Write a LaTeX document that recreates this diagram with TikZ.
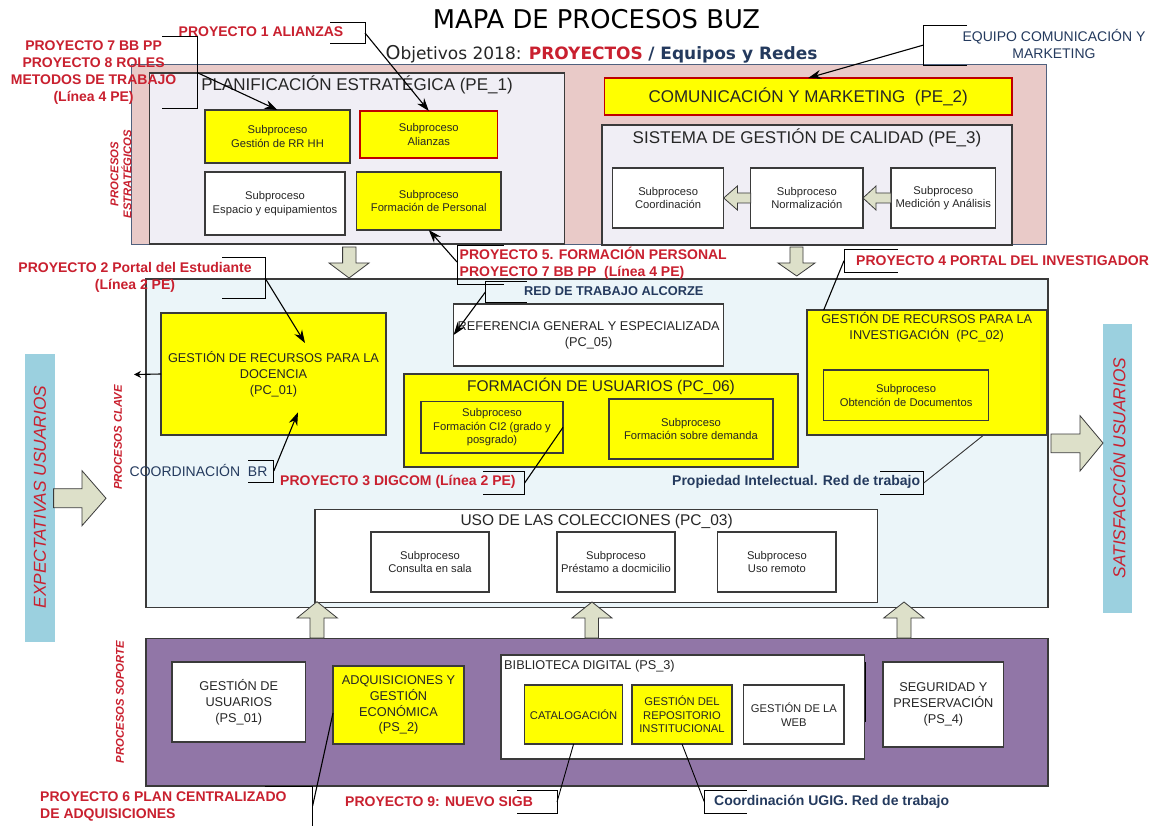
\documentclass[tikz,border=0pt]{standalone}
\usepackage{fontspec}
\setmainfont{Liberation Sans}
\newfontfamily\dejavu{DejaVu Sans}
\usetikzlibrary{arrows.meta}
\definecolor{rojo}{HTML}{C9202F}
\definecolor{navy}{HTML}{243A5E}
\definecolor{tinta}{HTML}{262626}
\definecolor{amarillo}{HTML}{FFFF00}
\definecolor{rosa}{HTML}{E9CAC8}
\definecolor{lila}{HTML}{F0EEF5}
\definecolor{celeste}{HTML}{EBF5F9}
\definecolor{barra}{HTML}{9BD0DF}
\definecolor{purpura}{HTML}{9176A7}
\definecolor{flecha}{HTML}{DDE0C9}
\definecolor{borde}{HTML}{3A3A3A}
\newcommand\fsz[2]{\fontsize{#1}{#2}\selectfont}
\newcommand\bx[7]{%
  \pgfmathsetmacro\cxx{(#3+#5)/2}\pgfmathsetmacro\cyy{(#4+#6)/2}%
  \pgfmathsetmacro\wdd{#5-#3}\pgfmathsetmacro\htt{#6-#4}%
  \node[#1,minimum width=\wdd pt,minimum height=\htt pt,inner sep=0pt,outer sep=0pt,align=center] (#2) at (\cxx,\cyy) {#7};}
\tikzset{
  x=1pt,y=-1pt,
  caja/.style={draw=borde,line width=1.1pt,text=tinta},
  sub/.style={caja,font=\fsz{11.2}{13.4}},
  big/.style={caja,font=\fsz{12.75}{15.8}},
  amar/.style={fill=amarillo},
  blanco/.style={fill=white},
  bloque/.style={draw=borde,line width=0.8pt,fill=flecha,line join=miter},
  cajatit/.style={text=tinta,font=\fsz{17}{20},inner sep=0pt},
  proy/.style={text=rojo,font=\bfseries\fsz{14}{17},align=center,inner sep=0pt},
  equipo/.style={text=navy,font=\fsz{14}{17},align=center,inner sep=0pt},
  equipob/.style={text=navy,font=\bfseries\fsz{14}{17},align=center,inner sep=0pt},
  vert/.style={text=rojo,font=\bfseries\itshape\fsz{11.3}{13},align=center,inner sep=0pt,rotate=90},
  barrat/.style={text=rojo,font=\itshape\fsz{17.3}{22},inner sep=0pt,rotate=90},
  cor/.style={draw=black,line width=0.9pt},
  conn/.style={draw=black,line width=1.1pt},
  tip/.style={draw=black,line width=1.1pt,-{Stealth[length=13pt,width=9pt]}},
}
\begin{document}
\begin{tikzpicture}
\useasboundingbox (0,0) rectangle (1161,826);
\fill[white] (0,0) rectangle (1161,826);
% ---- zonas
\bx{fill=rosa,draw=navy!80,line width=1pt}{estr}{131}{65}{1046}{245}{}
\bx{fill=celeste,draw=borde,line width=1.3pt}{clave}{146}{279}{1048}{607.5}{}
\bx{fill=purpura,draw=borde,line width=1.2pt}{sop}{146}{638.7}{1048}{786}{}
% ---- barras laterales
\bx{fill=barra}{expb}{25}{353.7}{54.8}{642}{}
\bx{fill=barra}{satb}{1103}{324}{1132}{612.7}{}
% ---- PE
\bx{caja,fill=lila}{pe1}{149.5}{73}{564.5}{244}{}
\bx{sub,amar}{rrhh}{205}{110}{350}{163}{Subproceso\\Gestión de RR HH}
\bx{sub,amar,draw=red!75!black}{ali}{360}{111}{497.6}{158}{Subproceso\\Alianzas}
\bx{sub,blanco}{esp}{205}{172}{345}{235}{Subproceso\\Espacio y equipamientos}
\bx{sub,amar}{fper}{356.6}{172}{501}{230}{Subproceso\\Formación de Personal}
\bx{caja,amar,draw=red!75!black,font=\fsz{17}{20}}{pe2}{604.4}{78}{1012}{115}{COMUNICACIÓN Y MARKETING~~(PE\_2)}
\bx{caja,fill=lila}{pe3}{602}{125}{1012}{245}{}
\bx{sub,blanco}{coo}{612.6}{168}{723.7}{228}{Subproceso\\Coordinación}
\bx{sub,blanco}{nor}{750.7}{168}{863}{228}{Subproceso\\Normalización}
\bx{sub,blanco}{med}{891}{168}{995.5}{228}{Subproceso\\Medición y Análisis}
% ---- PC
\bx{big,amar}{pc1}{161}{313}{386}{435}{GESTIÓN DE RECURSOS PARA LA\\DOCENCIA\\(PC\_01)}
\bx{big,blanco}{pc5}{453.6}{304}{723.7}{366}{REFERENCIA GENERAL Y ESPECIALIZADA\\(PC\_05)}
\bx{caja,amar}{pc6}{404}{374}{798}{467}{}
\bx{sub,amar}{ci2}{421}{401.7}{563}{453}{Subproceso\\Formación CI2 (grado y\\posgrado)}
\bx{sub,amar}{dem}{609}{399}{773}{459}{Subproceso\\Formación sobre demanda}
\bx{caja,amar}{pc2}{807}{310}{1046.7}{435}{}
\bx{sub,amar}{obt}{823.7}{370}{988.5}{420.7}{Subproceso\\Obtención de Documentos}
\bx{caja,blanco}{pc3}{315}{509.7}{877.4}{602.7}{}
\bx{sub,blanco}{con}{371}{532}{489}{592}{Subproceso\\Consulta en sala}
\bx{sub,blanco}{pre}{557}{532}{675}{592}{Subproceso\\Préstamo a docmicilio}
\bx{sub,blanco}{rem}{717.8}{532}{836}{592}{Subproceso\\Uso remoto}
% ---- PS
\bx{big,blanco}{ps1}{172}{662}{305.6}{742}{GESTIÓN DE\\USUARIOS\\(PS\_01)}
\bx{big,amar}{ps2}{333}{666}{464}{744}{ADQUISICIONES Y\\GESTIÓN\\ECONÓMICA\\(PS\_2)}
\draw[black,line width=1.2pt] (865,662) -- (865,722);
\bx{caja,blanco}{ps3}{501}{655}{864.4}{759}{}
\bx{sub,amar}{cat}{524.6}{685}{622.6}{744}{CATALOGACIÓN}
\bx{sub,amar}{repo}{632}{685}{732}{744}{GESTIÓN DEL\\REPOSITORIO\\INSTITUCIONAL}
\bx{sub,blanco}{web}{743.7}{685}{844}{744}{GESTIÓN DE LA\\WEB}
\bx{big,blanco}{ps4}{883}{662}{1003.7}{747}{SEGURIDAD Y\\PRESERVACIÓN\\(PS\_4)}
% ---- flechas de bloque
\draw[bloque] (342.6,247) -- (356,247) -- (356,263) -- (369,263) -- (349,278) -- (329,263) -- (342.6,263) -- cycle;
\draw[bloque] (790,247) -- (803,247) -- (803,263) -- (815,263) -- (796.7,276) -- (778,263) -- (790,263) -- cycle;
\draw[bloque] (750.7,193) -- (737.4,193) -- (737.4,186) -- (723.7,198) -- (737.4,210) -- (737.4,203) -- (750.7,203) -- cycle;
\draw[bloque] (891,193) -- (876,193) -- (876,186) -- (863,198) -- (876,210) -- (876,203) -- (891,203) -- cycle;
\draw[bloque] (53.6,488.7) -- (82,488.7) -- (82,470.7) -- (106,498.3) -- (82,525.7) -- (82,507.7) -- (53.6,507.7) -- cycle;
\draw[bloque] (1051,434) -- (1080,434) -- (1080,415.7) -- (1103,443) -- (1080,471) -- (1080,452.7) -- (1051,452.7) -- cycle;
\draw[bloque] (310,638) -- (310,618) -- (297,618) -- (317,601.7) -- (337.4,618) -- (324,618) -- (324,638) -- cycle;
\draw[bloque] (585,638) -- (585,618) -- (572,618) -- (592,602) -- (612,618) -- (598.5,618) -- (598.5,638) -- cycle;
\draw[bloque] (897,638) -- (897,618) -- (883.7,618) -- (904,602) -- (924,618) -- (911,618) -- (911,638) -- cycle;
% ---- titulos de caja
\node[cajatit] (tpe1) at (357,85) {PLANIFICACIÓN ESTRATÉGICA (PE\_1)};
\node[cajatit] (tpe3) at (807,137.5) {SISTEMA DE GESTIÓN DE CALIDAD (PE\_3)};
\node[cajatit,font=\fsz{15.5}{18}] (tpc6) at (601,386) {FORMACIÓN DE USUARIOS (PC\_06)};
\node[cajatit,font=\fsz{12.75}{16},align=center] (tpc2) at (926.7,327) {GESTIÓN DE RECURSOS PARA LA\\INVESTIGACIÓN~~(PC\_02)};
\node[cajatit,font=\fsz{15.5}{18}] (tpc3) at (596.6,521.7) {USO DE LAS COLECCIONES (PC\_03)};
\node[cajatit,font=\fsz{12.75}{15},anchor=west] (tps3) at (504,665.7) {BIBLIOTECA DIGITAL (PS\_3)};
% ---- puntos libres de los conectores
\coordinate (b1) at (365,33);
\coordinate (b78) at (197,72.5);
\coordinate (b5) at (457,262);
\coordinate (b2) at (265,278);
\coordinate (bred) at (485.4,292);
\coordinate (b4) at (844,260.7);
\coordinate (beq) at (923.7,45);
\coordinate (bbr) at (273.8,471);
\coordinate (b3) at (524.6,483);
\coordinate (bpi) at (923.7,483);
\coordinate (b6) at (312.6,806);
\coordinate (b9) at (557,802);
\coordinate (bug) at (704.4,802);
\coordinate (pc1a) at (305,343);
\coordinate (pc1b) at (298,412.3);
\coordinate (pc2a) at (823.7,310);
\coordinate (pc2b) at (983.7,435);
\coordinate (ps2a) at (333,713);
\coordinate (pc1i) at (134,374.5);
% ---- corchetes
\draw[cor] (330,22) -- (365,22) -- (365,43.3) -- (330,43.3);
\draw[cor] (162,36) -- (197,36) -- (197,108.7) -- (162,108.7);
\draw[cor] (504,284) -- (457,284) -- (457,245) -- (504,245);
\draw[cor] (222,257.3) -- (265,257.3) -- (265,298.3) -- (222,298.3);
\draw[cor] (527,281.7) -- (485.4,281.7) -- (485.4,302) -- (527,302);
\draw[cor] (898,249.3) -- (844,249.3) -- (844,272) -- (898,272);
\draw[cor] (967,25.7) -- (923.7,25.7) -- (923.7,65) -- (967,65);
\draw[cor] (248,460) -- (273.8,460) -- (273.8,482.7) -- (248,482.7);
\draw[cor] (483,471.7) -- (524.6,471.7) -- (524.6,494.7) -- (483,494.7);
\draw[cor] (880,471.7) -- (923.7,471.7) -- (923.7,494.7) -- (880,494.7);
\draw[cor] (264.5,786.7) -- (312.6,786.7) -- (312.6,826);
\draw[cor] (517,790.7) -- (557,790.7) -- (557,813.3) -- (517,813.3);
\draw[cor] (746.7,790.7) -- (704.4,790.7) -- (704.4,813.3) -- (746.7,813.3);
% ---- conectores
\draw[tip] (b1) -- (ali.north);
\draw[tip] (b78) -- (rrhh.north);
\draw[tip] (b5) -- (fper.south);
\draw[tip] (b2) -- (pc1a);
\draw[tip] (bred) -- (pc5.west);
\draw[tip] (beq) -- (pe2.north);
\draw[tip] (bbr) -- (pc1b);
\draw[conn,-{Stealth[length=7pt,width=7pt]}] (pc1.west) -- (pc1i);
\draw[conn] (b4) -- (pc2a);
\draw[conn] (b3) -- (ci2.east);
\draw[conn,draw=borde,line width=0.9pt] (bpi) -- (pc2b);
\draw[conn] (b6) -- (ps2a);
\draw[conn,line width=0.9pt] (b9) -- (cat.south);
\draw[conn,line width=0.9pt] (bug) -- (repo.south);
% ---- etiquetas
\node[text=black,font=\dejavu\fsz{25.8}{28},inner sep=0pt] (tit) at (596.5,19) {MAPA DE PROCESOS BUZ};
\node[inner sep=0pt,text=tinta,font=\dejavu\fsz{17}{20}] (obj) at (601.5,54) {{\fsz{19}{20}O}bjetivos 2018: \textcolor{rojo}{\bfseries PROYECTOS} \textcolor{navy}{\bfseries / Equipos y Redes}};
\node[proy] (p1) at (261,32) {PROYECTO 1 ALIANZAS};
\node[proy] (p78) at (93.6,72.5) {PROYECTO 7 BB PP\\PROYECTO 8 ROLES\\METODOS DE TRABAJO\\(Línea 4 PE)};
\node[proy,align=left,anchor=west] (p5) at (459.5,263) {PROYECTO 5. FORMACIÓN PERSONAL\\PROYECTO 7 BB PP~~(Línea 4 PE)};
\node[proy] (p2) at (135,277) {PROYECTO 2 Portal del Estudiante\\(Línea 2 PE)};
\node[equipob,font=\bfseries\fsz{12.8}{17},anchor=west] (red) at (524,290.7) {RED DE TRABAJO ALCORZE};
\node[proy,anchor=west] (p4) at (856,260.5) {PROYECTO 4 PORTAL DEL INVESTIGADOR};
\node[equipo] (eq) at (1054,44) {EQUIPO COMUNICACIÓN Y\\MARKETING};
\node[equipo,anchor=west] (br) at (129.5,470) {COORDINACIÓN~~BR};
\node[proy,anchor=west] (p3) at (280,481.7) {PROYECTO 3 DIGCOM (Línea 2 PE)};
\node[equipob,anchor=west] (pi) at (672,481.7) {Propiedad Intelectual. Red de trabajo};
\node[proy,align=left,anchor=west] (p6) at (40,806.5) {PROYECTO 6 PLAN CENTRALIZADO\\DE ADQUISICIONES};
\node[proy,anchor=west] (p9) at (345,801.7) {PROYECTO 9: NUEVO SIGB};
\node[equipob,anchor=west] (ug) at (714,801.7) {Coordinación UGIG. Red de trabajo};
\node[vert] (ve) at (121,174) {PROCESOS\\ESTRATÉGICOS};
\node[vert] (vc) at (118,437.5) {PROCESOS CLAVE};
\node[vert] (vs) at (120,702) {PROCESOS SOPORTE};
\node[barrat] (te) at (40,497) {EXPECTATIVAS USUARIOS};
\node[barrat] (ts) at (1118,468) {SATISFACCIÓN USUARIOS};
\end{tikzpicture}
\end{document}
